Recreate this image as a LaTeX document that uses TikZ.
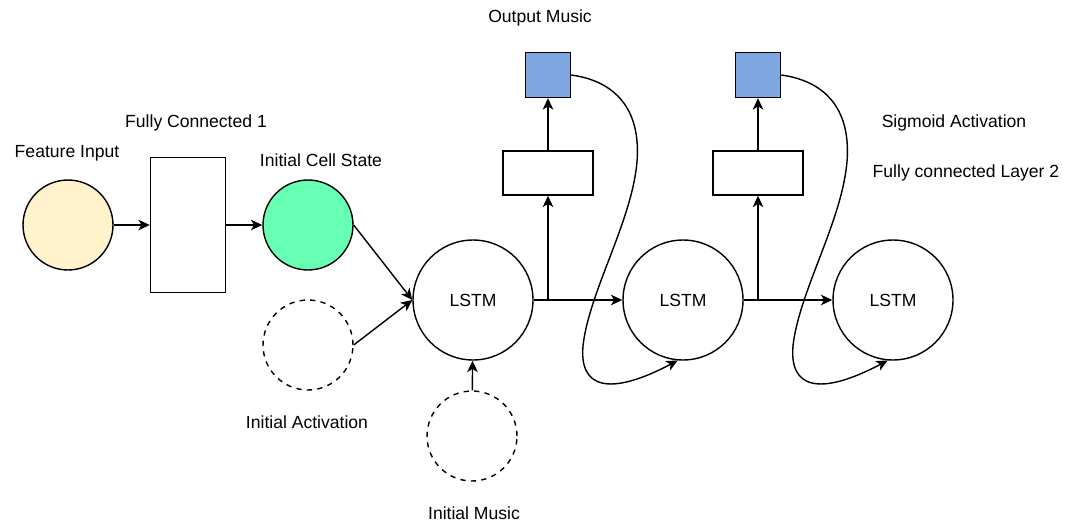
\documentclass[tikz,border=0pt]{standalone}
\usepackage{fontspec}
\setmainfont{Liberation Sans}
\usepackage{xcolor}
\usetikzlibrary{arrows.meta}
\definecolor{featyellow}{HTML}{FFF2CC}
\definecolor{cellgreen}{HTML}{66FFB3}
\definecolor{outblue}{HTML}{7EA6E0}

\begin{document}
\begin{tikzpicture}[x=0.02cm, y=-0.02cm, font=\fontsize{10}{12}\selectfont,
    line width=0.8pt, >={Stealth[length=6.5pt, width=6pt, inset=1.8pt]},
    unit/.style={draw, circle, inner sep=0pt, minimum size=1.8cm},
    initunit/.style={unit, dashed},
    lstmunit/.style={draw, circle, inner sep=0pt, minimum size=2.4cm},
    fcbox/.style={draw, inner sep=0pt, fill=white},
    outbox/.style={draw, inner sep=0pt, minimum size=0.9cm, fill=outblue}]
  \useasboundingbox (0,0) rectangle (1074,527);
  % eingang und erste schicht
  \node[unit, fill=featyellow] (feat) at (68,225) {};
  \node[fcbox, minimum width=1.5cm, minimum height=2.7cm] (fc1) at (188,225) {};
  \node[unit, fill=cellgreen] (cell) at (308,225) {};
  \node[initunit] (act) at (308,345) {};
  \node[initunit] (music) at (472,436) {};
  \node at (67,153) {Feature Input};
  \node at (196,123) {Fully Connected 1};
  \node at (321,160) {Initial Cell State};
  \node at (307,422) {Initial Activation};
  \node at (474,513) {Initial Music};
  % lstm kette
  \foreach \i/\x in {1/473, 2/683, 3/893}
    \node[lstmunit] (lstm\i) at (\x,300) {LSTM};
  \draw[->] (feat) -- (fc1);
  \draw[->] (fc1) -- (cell);
  \draw[->] (cell.east) -- (lstm1.west);
  \draw[->] (act.east) -- (lstm1.west);
  \draw[->] (music) -- (lstm1);
  % ausgabe zweige mit rueckfuehrung
  \foreach \i/\j/\x in {1/2/548, 2/3/758} {
    \node[fcbox, minimum width=1.8cm, minimum height=0.88cm] (fc\j) at (\x,173) {};
    \node[outbox] (out\i) at (\x,75) {};
    \coordinate (split\i) at (\x,300);
    \draw[->] (lstm\i) -- (lstm\j);
    \draw[->] (split\i) -- (fc\j);
    \draw[->] (fc\j) -- (out\i);
    \draw[->] (out\i.east) .. controls +(44,6) and +(3,-50) .. ++(66,84)
      .. controls +(-4,60) and +(7,-55) .. ++(-54,185)
      .. controls +(-5,45) and +(-68,36) .. (lstm\j.265);
  }
  \node at (540,18) {Output Music};
  \node at (954,123) {Sigmoid Activation};
  \node at (966,173) {Fully connected Layer 2};
\end{tikzpicture}
\end{document}
